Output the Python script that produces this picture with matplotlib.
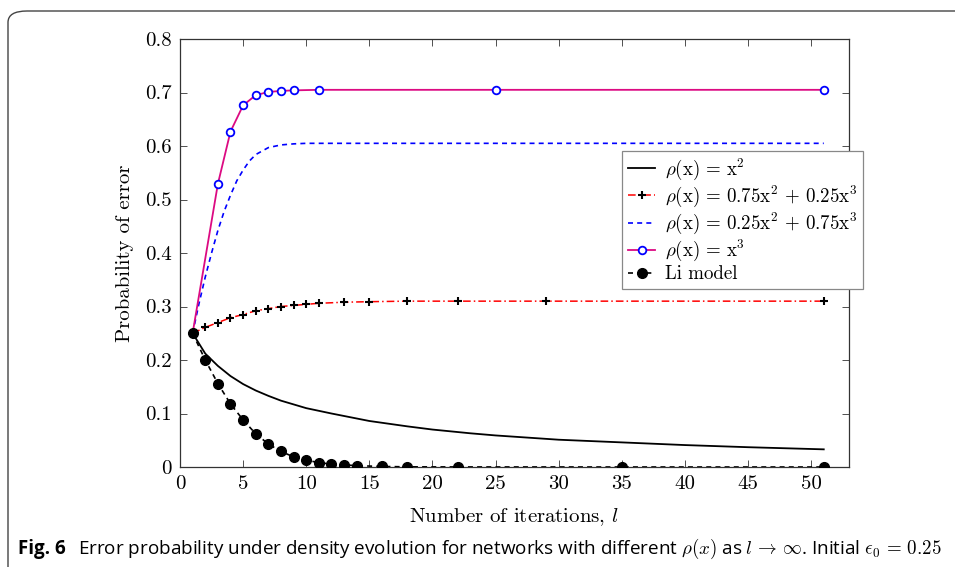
import matplotlib
matplotlib.use("Agg")
import matplotlib.pyplot as plt
from matplotlib.patches import FancyBboxPatch

plt.rcParams["font.family"] = "serif"
plt.rcParams["font.serif"] = ["cmr10", "DejaVu Serif"]
plt.rcParams["mathtext.fontset"] = "cm"
plt.rcParams["axes.formatter.use_mathtext"] = True

# rho(x) = x^2
l_sq = [1, 2, 3, 4, 5, 6, 7, 8, 9, 10, 12, 15, 18, 20, 23, 25, 30, 35, 40, 45, 51]
p_sq = [0.25, 0.212, 0.189, 0.170, 0.155, 0.143, 0.133, 0.124, 0.117, 0.110,
        0.100, 0.086, 0.076, 0.070, 0.063, 0.059, 0.051, 0.046, 0.041, 0.037, 0.033]

# rho(x) = 0.75x^2 + 0.25x^3
l_mix1 = [1, 2, 3, 4, 5, 6, 7, 8, 9, 10, 11, 13, 15, 18, 22, 29, 51]
p_mix1 = [0.25, 0.261, 0.270, 0.279, 0.285, 0.292, 0.296, 0.300, 0.302, 0.304,
          0.306, 0.308, 0.309, 0.310, 0.310, 0.310, 0.310]

# rho(x) = 0.25x^2 + 0.75x^3
l_mix2 = [1, 1.5, 2, 2.5, 3, 3.5, 4, 4.5, 5, 5.5, 6, 7, 8, 9, 10, 12, 20, 51]
p_mix2 = [0.25, 0.305, 0.355, 0.400, 0.442, 0.478, 0.508, 0.535, 0.555, 0.572,
          0.584, 0.597, 0.602, 0.604, 0.605, 0.605, 0.605, 0.605]

# rho(x) = x^3
l_cube = [1, 3, 4, 5, 6, 7, 8, 9, 11, 25, 51]
p_cube = [0.25, 0.529, 0.627, 0.676, 0.695, 0.701, 0.703, 0.704, 0.705, 0.705, 0.705]

# Li model
l_li = [1, 2, 3, 4, 5, 6, 7, 8, 9, 10, 11, 12, 13, 14, 16, 18, 22, 35, 51]
p_li = [0.25, 0.200, 0.156, 0.118, 0.088, 0.062, 0.043, 0.029, 0.019, 0.013,
        0.008, 0.0056, 0.004, 0.0025, 0.001, 0.0003, 0.0001, 0.0, 0.0]

xticks = [0, 5, 10, 15, 20, 25, 30, 35, 40, 45, 50]
yticks = [0, 0.1, 0.2, 0.3, 0.4, 0.5, 0.6, 0.7, 0.8]

fig = plt.figure(figsize=(9.55, 5.67), dpi=100)
ax = fig.add_axes([180 / 955, 1 - 467 / 567, 669 / 955, 428 / 567])

ax.plot(l_sq, p_sq, color="black", lw=1.3, label=r"$\rho(\mathrm{x})\,=\,\mathrm{x}^2$")
ax.plot(l_mix1, p_mix1, color="red", lw=1.1, dashes=(5, 2, 1, 2), marker="+",
        ms=6, mec="black", mew=1.5, label=r"$\rho(\mathrm{x})\,=\,0.75\mathrm{x}^2\,+\,0.25\mathrm{x}^3$")
ax.plot(l_mix2, p_mix2, color="blue", lw=1.2, dashes=(3, 2.5),
        label=r"$\rho(\mathrm{x})\,=\,0.25\mathrm{x}^2\,+\,0.75\mathrm{x}^3$")
ax.plot(l_cube, p_cube, color="#dc0a82", lw=1.3, marker="o", ms=5.5, mfc="white",
        mec="blue", mew=1.3, label=r"$\rho(\mathrm{x})\,=\,\mathrm{x}^3$")
ax.plot(l_li, p_li, color="black", lw=1.2, dashes=(3, 2.5), marker="o", ms=7,
        label="Li model", zorder=5)

ax.set_xlim(0, 53)
ax.set_ylim(0, 0.8)
ax.set_xticks(xticks)
ax.set_yticks(yticks)
ax.set_xticklabels([str(t) for t in xticks])
ax.set_yticklabels(["0"] + ["%.1f" % t for t in yticks[1:]])
ax.tick_params(direction="in", length=5, width=0.6, top=True, right=True,
               labelsize=15, colors="#333333", labelcolor="black", pad=6)
for s in ax.spines.values():
    s.set_linewidth(0.9)
    s.set_color("#333333")

ax.set_xlabel(r"Number of iterations, $l$", fontsize=15, labelpad=9)
ax.set_ylabel("Probability of error", fontsize=15, labelpad=8)

leg = ax.legend(loc="upper left", bbox_to_anchor=(0.661, 0.738), fontsize=13.6,
                frameon=True, fancybox=False, edgecolor="#888888", framealpha=1,
                handlelength=1.45, handletextpad=0.5, borderpad=0.3, labelspacing=0.1,
                borderaxespad=0)
leg.get_frame().set_linewidth(0.9)

# border of the figure box
box = FancyBboxPatch((8 / 955, -0.2), 1.2, 1 - 11 / 567 + 0.2,
                     boxstyle="round,pad=0,rounding_size=0.02",
                     transform=fig.transFigure, fill=False, edgecolor="#444444",
                     lw=1.0, clip_on=False)
fig.patches.append(box)

fig.text(18 / 955, 1 - 549 / 567, "Fig. 6", fontsize=13.5, fontweight="bold",
         family=["Open Sans", "DejaVu Sans"], va="center", ha="left")
fig.text(78 / 955, 1 - 549 / 567,
         r"Error probability under density evolution for networks with different $\rho(x)$ as $l\,\rightarrow\,\infty$. Initial $\epsilon_0\,=\,0.25$",
         fontsize=13.6, family=["Open Sans", "DejaVu Sans"],
         va="center", ha="left")

fig.savefig("out.png", dpi=100)
